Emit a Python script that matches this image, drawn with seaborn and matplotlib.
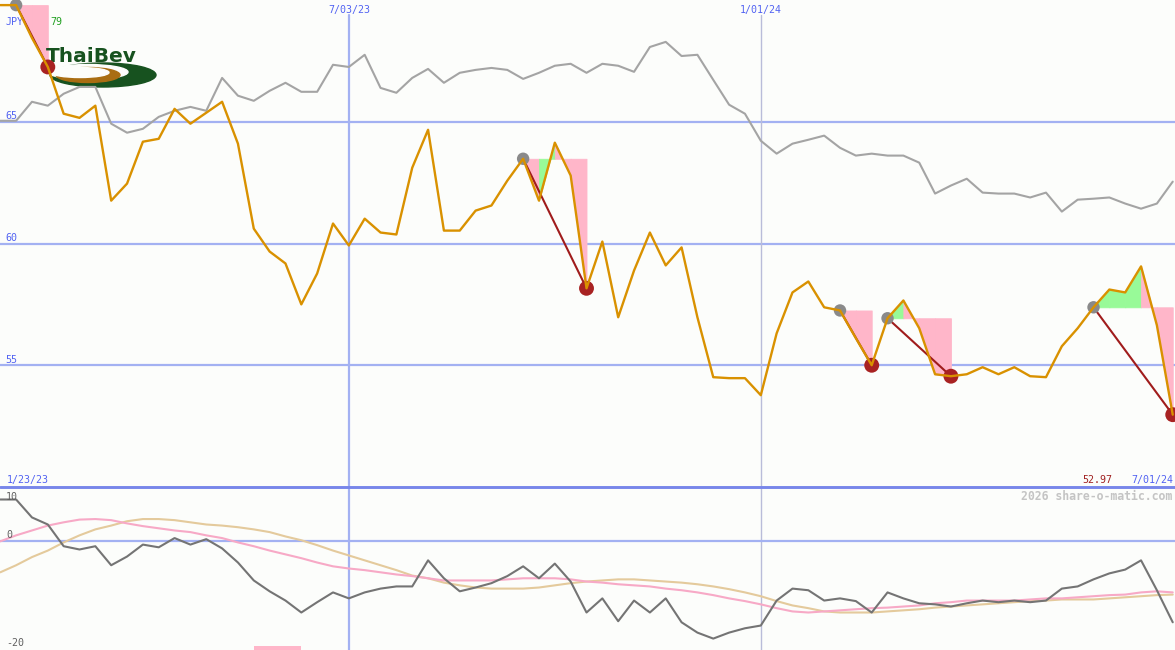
import pandas as pd
import matplotlib
matplotlib.use('Agg')
import matplotlib.pyplot as plt
from matplotlib.patches import Ellipse
import seaborn as sns

# weekly closes, 1/30/23 .. 7/01/24
dates = pd.date_range('2023-01-30', periods=75, freq='7D')

price = [69.79, 69.79, 68.44, 67.25, 65.33, 65.16, 65.66, 61.76, 62.46, 64.18,
         64.30, 65.53, 64.92, 65.37, 65.82, 64.10, 60.61, 59.67, 59.18, 57.50,
         58.77, 60.82, 59.92, 61.02, 60.45, 60.37, 63.11, 64.67, 60.53, 60.53,
         61.35, 61.56, 62.58, 63.48, 61.76, 64.14, 62.79, 58.16, 60.08, 56.97,
         58.89, 60.45, 59.10, 59.84, 56.97, 54.51, 54.47, 54.47, 53.77, 56.31,
         57.99, 58.44, 57.38, 57.25, 56.11, 55.00, 56.93, 57.66, 56.52, 54.63,
         54.55, 54.63, 54.92, 54.63, 54.92, 54.55, 54.51, 55.78, 56.52, 57.38,
         58.11, 57.99, 59.06, 56.64, 52.97]

# comparison index (grey)
index_line = [65.04, 65.04, 65.82, 65.66, 66.15, 66.43, 66.43, 64.92, 64.55, 64.71,
              65.20, 65.45, 65.61, 65.45, 66.80, 66.07, 65.86, 66.27, 66.60, 66.23,
              66.23, 67.34, 67.25, 67.75, 66.39, 66.19, 66.80, 67.17, 66.60, 67.01,
              67.13, 67.21, 67.13, 66.76, 67.01, 67.30, 67.38, 67.01, 67.38, 67.30,
              67.05, 68.07, 68.28, 67.70, 67.75, 66.72, 65.70, 65.33, 64.22, 63.69,
              64.10, 64.26, 64.43, 63.93, 63.61, 63.69, 63.61, 63.61, 63.32, 62.05,
              62.38, 62.66, 62.09, 62.05, 62.05, 61.89, 62.09, 61.31, 61.80, 61.84,
              61.89, 61.64, 61.43, 61.64, 62.54]

# lower panel oscillators
osc = [7.7, 7.7, 4.4, 3.1, -0.9, -1.5, -0.9, -4.4, -2.8, -0.6,
       -1.1, 0.6, -0.6, 0.4, -1.3, -3.9, -7.2, -9.2, -10.9, -13.1,
       -11.2, -9.4, -10.5, -9.4, -8.7, -8.3, -8.3, -3.5, -6.8, -9.2,
       -8.5, -7.7, -6.4, -4.6, -6.8, -4.1, -7.4, -13.1, -10.5, -14.7,
       -10.9, -13.1, -10.5, -14.9, -16.8, -17.9, -16.8, -16.0, -15.5, -10.9,
       -8.7, -9.0, -10.9, -10.5, -11.0, -13.1, -9.4, -10.5, -11.4, -11.6,
       -12.0, -11.4, -10.9, -11.2, -10.9, -11.2, -10.9, -8.7, -8.3, -7.0,
       -5.9, -5.2, -3.5, -9.0, -14.9]
osc_fast = [0.0, 1.1, 2.0, 2.9, 3.5, 4.0, 4.1, 3.9, 3.3, 2.8,
            2.4, 2.0, 1.7, 1.1, 0.6, -0.2, -0.9, -1.7, -2.4, -3.1,
            -3.9, -4.6, -5.0, -5.3, -5.7, -6.1, -6.4, -6.8, -7.2, -7.2,
            -7.2, -7.2, -7.0, -6.8, -6.8, -6.8, -7.0, -7.4, -7.6, -7.9,
            -8.1, -8.3, -8.7, -9.0, -9.4, -9.9, -10.5, -11.0, -11.6, -12.3,
            -12.9, -13.1, -12.9, -12.7, -12.5, -12.3, -12.2, -12.0, -11.8, -11.4,
            -11.2, -10.9, -10.9, -10.9, -10.9, -10.7, -10.5, -10.5, -10.3, -10.1,
            -9.9, -9.8, -9.4, -9.2, -9.4]
osc_slow = [-5.7, -4.4, -2.9, -1.7, -0.2, 1.1, 2.2, 2.9, 3.7, 4.1,
            4.1, 3.9, 3.5, 3.1, 2.9, 2.6, 2.2, 1.7, 0.9, 0.2,
            -0.7, -1.7, -2.6, -3.5, -4.4, -5.3, -6.3, -6.8, -7.6, -8.1,
            -8.5, -8.7, -8.7, -8.7, -8.5, -8.1, -7.7, -7.4, -7.2, -7.0,
            -7.0, -7.2, -7.4, -7.6, -7.9, -8.3, -8.8, -9.4, -10.1, -11.0,
            -11.8, -12.3, -12.9, -13.1, -13.1, -13.1, -12.9, -12.7, -12.5, -12.2,
            -12.0, -11.8, -11.6, -11.4, -11.2, -11.0, -10.9, -10.7, -10.7, -10.7,
            -10.5, -10.3, -10.1, -9.9, -9.8]

# drops: start week, end week, fill per week (p = pink, g = green)
events = [(1, 3, 'pp'), (33, 37, 'pgpp'), (53, 55, 'pp'), (56, 60, 'gppp'), (69, 74, 'gggpp')]

price_ticks = [55, 60, 65]
osc_ticks = [10, 0, -20]
date_marks = [pd.Timestamp('2023-07-03'), pd.Timestamp('2024-01-01')]
start_label = '1/23/23'
currency = 'JPY'

BG = '#fcfdfb'
GRID = '#a3b1f2'
BLUE = '#5263f2'
PINK = '#ffb6c9'
GREEN = '#98fa98'


def fmt(d):
    return f"{d.month}/{d.day:02d}/{d.year % 100:02d}"


sns.set_style('white')
plt.rcParams['font.family'] = ['DejaVu Sans Mono', 'DejaVu Sans']

fig = plt.figure(figsize=(11.75, 6.5), dpi=100, facecolor=BG)
ax = fig.add_axes([0, 163 / 650, 1, 487 / 650])
ax2 = fig.add_axes([0, 0, 1, 163 / 650])
ov = fig.add_axes([0, 0, 1, 1])
ov.set_xlim(0, 1175)
ov.set_ylim(650, 0)
ov.axis('off')
px = ov.transData  # pixel coordinates for decorations

# main panel
sns.lineplot(x=dates, y=index_line, ax=ax, color='#a4a4a4', lw=1.5, zorder=2)
sns.lineplot(x=dates, y=price, ax=ax, color='#d99100', lw=1.7, zorder=5)

for s, e, cols in events:
    lvl = price[s]
    for k, c in zip(range(s, e), cols):
        col = PINK if c == 'p' else GREEN
        ax.fill_between(dates[k:k + 2], lvl, price[k:k + 2],
                        facecolor=col, edgecolor=col, lw=0.6, zorder=1)
    sns.lineplot(x=[dates[s], dates[e]], y=[price[s], price[e]], ax=ax,
                 color='#a01c1c', lw=1.5, zorder=3)

sns.scatterplot(x=[dates[s] for s, e, c in events], y=[price[s] for s, e, c in events],
                ax=ax, color='#8a8a8a', s=80, edgecolor='none', zorder=4)
sns.scatterplot(x=[dates[e] for s, e, c in events], y=[price[e] for s, e, c in events],
                ax=ax, color='#a82222', s=115, edgecolor='none', zorder=4)

for v in price_ticks:
    ax.axhline(v, color=GRID, lw=1.6, zorder=0.5)
    ax.annotate(str(v), xy=(0, v), xycoords=('axes fraction', 'data'),
                xytext=(3.6, 1.8), textcoords='offset points',
                fontsize=7.2, color=BLUE, va='baseline')

for i, d in enumerate(date_marks):
    col, lw = (GRID, 1.6) if i == 0 else ('#b9bcd9', 1.0)
    ax.axvline(d, ymax=(487 - 15) / 487, color=col, lw=lw, zorder=0.5)
    ax2.axvline(d, color=col, lw=lw, zorder=0.5)
    ax.annotate(fmt(d), xy=(d, 1), xycoords=('data', 'axes fraction'),
                xytext=(0, -9.4), textcoords='offset points',
                fontsize=7.2, color=BLUE, ha='center', va='baseline')

# currency label, partly hidden by the first drop
ax.text(6, 25, currency, transform=px, fontsize=7.2, color=BLUE, zorder=0.8)
ax.text(50, 25, f"{price[0]:.2f}"[-2:], transform=px, fontsize=7.2,
        color='#22a022', zorder=0.8)

# logo
logo = [
    Ellipse((103, 75), 106, 24, color='#17521f'),
    Ellipse((88, 72), 80, 15, color=BG),
    Ellipse((88, 75), 64, 15, color='#a96d12'),
    Ellipse((80, 72.5), 58, 10, color=BG),
]
for p in logo:
    p.set_transform(px)
    p.set_zorder(1.5)
    ax.add_patch(p)
ax.text(46, 62, 'ThaiBev', transform=px, fontsize=14.5, color='#17521f',
        family='DejaVu Sans', weight='bold', zorder=1.6)

# lower panel
sns.lineplot(x=dates, y=osc_slow, ax=ax2, color='#e4ca9c', lw=1.5, zorder=2)
sns.lineplot(x=dates, y=osc_fast, ax=ax2, color='#f7a9c6', lw=1.5, zorder=3)
sns.lineplot(x=dates, y=osc, ax=ax2, color='#747474', lw=1.5, zorder=4)
ax2.axhline(0, color=GRID, lw=1.6, zorder=0.5)
ax2.fill_between(dates[16:20], -20, -19.2, color=PINK, lw=0)

for a in (ax, ax2):
    a.set_facecolor(BG)
    a.set_xlim(dates[0] - pd.Timedelta(hours=3), dates[0] + pd.Timedelta(days=519))
    a.set_xticks([])
    a.set_yticks([])
    a.set_xlabel('')
    a.set_ylabel('')
    for sp in a.spines.values():
        sp.set_visible(False)
ax.set_ylim(50, 70)
ax2.set_ylim(-20, 10)

# panel divider
ov.axhline(487, color='#7886ea', lw=2.1)

# lower-panel scale labels
for v, y in zip(osc_ticks, [500, 538.5, 646]):
    ov.text(6, y, str(v), fontsize=7.2, color='#606060', va='baseline')

# footer labels
ov.text(7, 483, start_label, fontsize=7.2, color=BLUE, va='baseline')
ov.text(1173, 483, fmt(dates[-1]), fontsize=7.2, color=BLUE, va='baseline', ha='right')
ov.text(1112, 483, f"{price[-1]:.2f}", fontsize=7.2, color='#a02020', va='baseline', ha='right')
ov.text(1172, 500, '2026 share-o-matic.com', fontsize=8.3, color='#c4c4c4',
        weight='bold', va='baseline', ha='right')

fig.savefig('out.png', dpi=100, facecolor=BG)
